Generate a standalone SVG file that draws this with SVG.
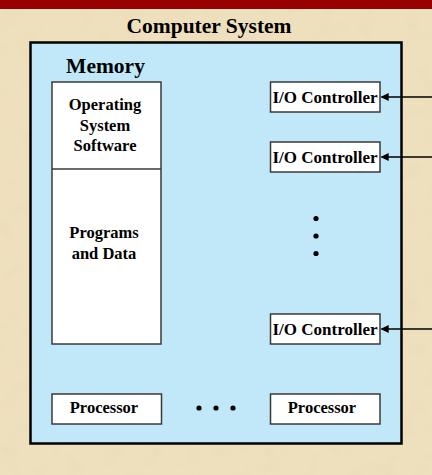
<svg xmlns="http://www.w3.org/2000/svg" width="432" height="475" viewBox="0 0 432 475">
  <defs>
    <style>
      text { font-family: "Liberation Serif", "Times New Roman", serif; font-weight: bold; fill: #000; text-anchor: middle; }
      .title { font-size: 21.5px; }
      .lbl { font-size: 16.5px; }
      .io { font-size: 17px; }
      .box { fill: #ffffff; stroke: #3a3a3a; stroke-width: 1.5; }
      .conn { stroke: #000; stroke-width: 1.5; fill: none; }
      .dot { fill: #000; }
    </style>
    <marker id="arrow" viewBox="0 0 10 10" refX="9" refY="5" markerWidth="8" markerHeight="8" markerUnits="userSpaceOnUse" orient="auto">
      <path d="M0,0 L10,5 L0,10 z" fill="#000"/>
    </marker>
    <filter id="paper" x="0" y="0" width="100%" height="100%">
      <feTurbulence type="fractalNoise" baseFrequency="0.05" numOctaves="4" seed="4" result="n"/>
      <feColorMatrix in="n" type="matrix" values="0 0 0 0 0.80  0 0 0 0 0.69  0 0 0 0 0.48  0 0 0 -1.0 0.6" result="c"/>
      <feComposite in="c" in2="SourceGraphic" operator="over"/>
    </filter>
  </defs>

  <rect x="0" y="0" width="432" height="475" fill="#efe0bd" filter="url(#paper)"/>
  <rect x="0" y="0" width="432" height="9" fill="#990000"/>

  <text class="title" x="209" y="33">Computer System</text>

  <g id="computer-system">
    <rect x="30.5" y="42.5" width="371" height="401" fill="#c0e8f8" stroke="#000" stroke-width="2.5"/>
  </g>

  <g id="memory">
    <text class="title" x="105.5" y="73">Memory</text>
    <rect class="box" x="52" y="82" width="109" height="262"/>
    <line x1="52" y1="169" x2="161" y2="169" stroke="#3a3a3a" stroke-width="1.5"/>
  </g>

  <g id="os-software">
    <text class="lbl" x="105" y="110">Operating</text>
    <text class="lbl" x="105" y="131">System</text>
    <text class="lbl" x="105" y="151">Software</text>
  </g>

  <g id="programs-data">
    <text class="lbl" x="104" y="238">Programs</text>
    <text class="lbl" x="104" y="259">and Data</text>
  </g>

  <g id="io-controller-1">
    <rect class="box" x="270.5" y="82" width="109.5" height="30"/>
    <text class="io" x="325" y="102.5">I/O Controller</text>
  </g>
  <g id="io-controller-2">
    <rect class="box" x="270.5" y="142" width="109.5" height="30"/>
    <text class="io" x="325" y="162.5">I/O Controller</text>
  </g>
  <g id="io-controller-3">
    <rect class="box" x="270.5" y="314" width="109.5" height="30"/>
    <text class="io" x="325" y="334.5">I/O Controller</text>
  </g>

  <g id="io-ellipsis">
    <circle class="dot" cx="316" cy="218.5" r="2.6"/>
    <circle class="dot" cx="316" cy="236" r="2.6"/>
    <circle class="dot" cx="316" cy="253.5" r="2.6"/>
  </g>

  <g id="processor-1">
    <rect class="box" x="52" y="394" width="109.5" height="30"/>
    <text class="lbl" x="104" y="413">Processor</text>
  </g>
  <g id="processor-2">
    <rect class="box" x="270.5" y="394" width="109.5" height="30"/>
    <text class="lbl" x="322" y="413">Processor</text>
  </g>

  <g id="processor-ellipsis">
    <circle class="dot" cx="199" cy="408" r="2.6"/>
    <circle class="dot" cx="216" cy="408" r="2.6"/>
    <circle class="dot" cx="233" cy="408" r="2.6"/>
  </g>

  <g id="connectors">
    <line class="conn" x1="432" y1="97" x2="381.5" y2="97" marker-end="url(#arrow)"/>
    <line class="conn" x1="432" y1="157" x2="381.5" y2="157" marker-end="url(#arrow)"/>
    <line class="conn" x1="432" y1="329" x2="381.5" y2="329" marker-end="url(#arrow)"/>
  </g>
</svg>
